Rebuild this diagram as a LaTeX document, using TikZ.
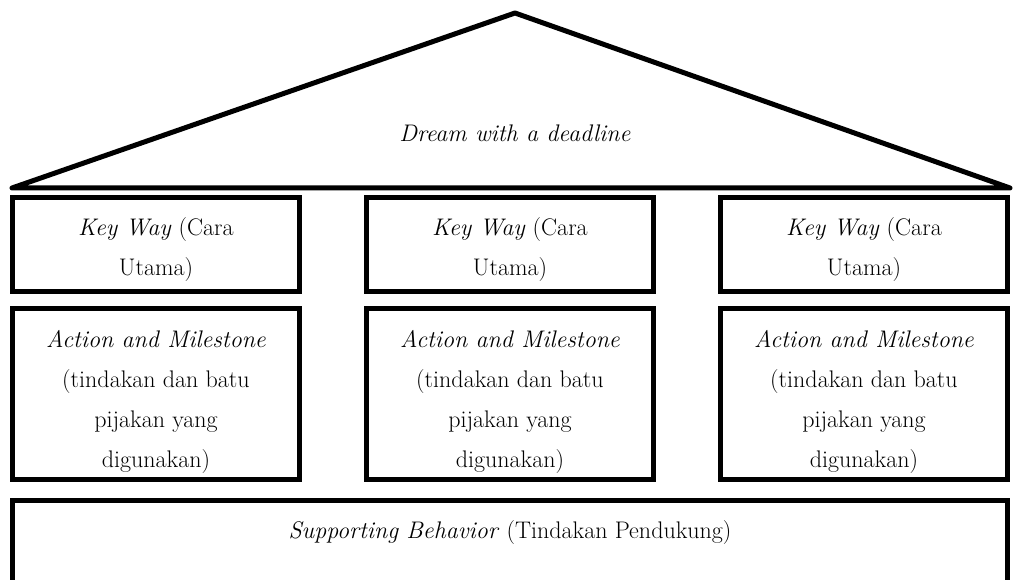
\documentclass[tikz,border=0pt]{standalone}
\usepackage{fontspec}
\usepackage{tikz}
\usetikzlibrary{positioning}

\begin{document}
\begin{tikzpicture}[
        x=1pt, y=-1pt,
        node distance=12pt and 62pt,
        every node/.style={font=\fontsize{24}{40}\selectfont},
        pillar/.style={draw, line width=5pt, minimum width=287pt, inner xsep=0pt, inner ysep=0pt, align=center},
        keyway/.style={pillar, text height=78.5pt, text depth=15.5pt},
        action/.style={pillar, text height=158.5pt, text depth=12.5pt},
        support/.style={pillar, minimum width=995pt, text height=37.5pt, text depth=82pt},
        roofline/.style={line width=5pt, line join=round}
    ]

    \useasboundingbox (0,0) rectangle (1013,580);
    \clip (0,0) rectangle (1013,580);

    % Roof ------------------------------------------------
    \coordinate (roofleft)  at (12,188);
    \coordinate (roofapex)  at (515,13);
    \coordinate (roofright) at (1010,188);
    \draw[roofline] (roofleft) -- (roofapex) -- (roofright) -- cycle;
    \node[anchor=base] (dream) at (515,142) {\textit{Dream with a deadline}};

    % Pillars ---------------------------------------------
    \node[keyway] (key1) at (156,244.5) {\textit{Key Way} (Cara\\Utama)};
    \node[keyway, right=of key1] (key2) {\textit{Key Way} (Cara\\Utama)};
    \node[keyway, right=of key2] (key3) {\textit{Key Way} (Cara\\Utama)};

    \node[action, below=of key1] (act1) {\textit{Action and Milestone}\\(tindakan dan batu\\pijakan yang\\digunakan)};
    \node[action, below=of key2] (act2) {\textit{Action and Milestone}\\(tindakan dan batu\\pijakan yang\\digunakan)};
    \node[action, below=of key3] (act3) {\textit{Action and Milestone}\\(tindakan dan batu\\pijakan yang\\digunakan)};

    % Foundation
    \node[support, below=16pt of act2] (behavior) {\textit{Supporting Behavior} (Tindakan Pendukung)};
\end{tikzpicture}
\end{document}
